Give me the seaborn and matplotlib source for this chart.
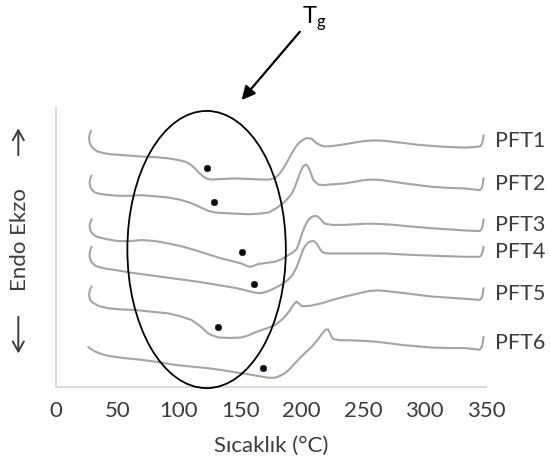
import matplotlib
matplotlib.use("Agg")
import matplotlib.pyplot as plt
from matplotlib.patches import Ellipse, FancyArrowPatch
import numpy as np
import pandas as pd
import seaborn as sns

# DSC thermograms (stacked, arbitrary heat-flow units) for six samples
samples = ["PFT1", "PFT2", "PFT3", "PFT4", "PFT5", "PFT6"]

pft1_t = [28.5, 27.4, 26.9, 27.5, 29.0, 31.0, 34.0, 39.0, 45.0, 58.0, 70.0, 81.0, 91.0, 99.0, 105.0,
          109.5, 113.0, 116.5, 120.0, 123.5, 127.0, 136.0, 146.0, 157.0, 167.0, 173.0, 178.0, 181.5,
          185.0, 188.5, 192.0, 195.0, 197.5, 201.0, 204.0, 208.0, 212.0, 215.5, 219.0, 226.0, 235.0,
          243.0, 252.0, 260.0, 268.0, 276.0, 284.0, 295.0, 306.0, 320.0, 333.0, 340.0, 345.0, 346.3,
          347.3, 348.0]
pft1_q = [4.57, 4.51, 4.43, 4.35, 4.29, 4.24, 4.20, 4.17, 4.15, 4.13, 4.11, 4.10, 4.08, 4.05, 4.02,
          3.97, 3.90, 3.82, 3.75, 3.71, 3.70, 3.71, 3.72, 3.71, 3.70, 3.70, 3.72, 3.79,
          3.90, 4.03, 4.17, 4.28, 4.35, 4.41, 4.44, 4.43, 4.35, 4.31, 4.29, 4.30, 4.33,
          4.36, 4.39, 4.40, 4.39, 4.37, 4.35, 4.32, 4.30, 4.28, 4.27, 4.28, 4.29, 4.32,
          4.38, 4.49]

pft2_t = [29.0, 27.8, 27.3, 28.0, 29.5, 31.5, 34.5, 40.0, 50.5, 60.0, 70.0, 81.0, 91.0, 101.0, 110.0,
          117.0, 124.0, 130.0, 137.5, 147.0, 156.5, 165.0, 173.0, 178.0, 182.0, 186.0, 189.0, 192.0,
          194.5, 197.0, 199.0, 201.0, 202.5, 204.0, 205.5, 207.0, 209.5, 213.5, 218.0, 222.0, 235.0,
          243.0, 251.0, 258.0, 265.0, 275.0, 284.0, 295.0, 306.0, 320.0, 333.0, 345.0, 346.3, 347.3,
          348.0]
pft2_q = [3.77, 3.71, 3.63, 3.56, 3.51, 3.47, 3.45, 3.43, 3.41, 3.41, 3.42, 3.40, 3.38, 3.34, 3.28,
          3.21, 3.14, 3.11, 3.10, 3.09, 3.08, 3.09, 3.11, 3.17, 3.23, 3.30, 3.37, 3.45,
          3.57, 3.72, 3.84, 3.93, 3.96, 3.96, 3.92, 3.84, 3.69, 3.61, 3.60, 3.61, 3.63,
          3.66, 3.69, 3.70, 3.69, 3.66, 3.63, 3.60, 3.57, 3.55, 3.54, 3.51, 3.54, 3.60,
          3.72]

pft3_t = [29.0, 27.8, 27.3, 28.0, 29.5, 31.5, 34.5, 40.0, 50.5, 60.0, 70.0, 81.0, 91.0, 102.0, 113.0,
          123.0, 133.0, 142.0, 151.0, 155.0, 158.0, 161.0, 164.5, 171.0, 178.0, 184.0, 189.0, 193.0,
          196.0, 198.0, 200.0, 202.5, 205.0, 208.0, 210.5, 213.0, 215.0, 217.0, 219.0, 225.0, 235.0,
          243.0, 251.0, 260.0, 268.0, 276.0, 284.0, 295.0, 306.0, 320.0, 333.0, 345.0, 346.3, 347.3,
          348.0]
pft3_q = [2.99, 2.93, 2.86, 2.79, 2.74, 2.70, 2.67, 2.64, 2.60, 2.60, 2.62, 2.60, 2.56, 2.51, 2.44,
          2.37, 2.30, 2.25, 2.20, 2.16, 2.14, 2.16, 2.19, 2.21, 2.23, 2.28, 2.35, 2.40,
          2.46, 2.58, 2.72, 2.86, 2.97, 3.03, 3.05, 3.04, 3.00, 2.95, 2.91, 2.89, 2.89,
          2.90, 2.91, 2.91, 2.90, 2.89, 2.87, 2.85, 2.83, 2.81, 2.79, 2.78, 2.81, 2.87,
          2.99]

pft4_t = [29.0, 27.8, 27.3, 28.0, 29.5, 31.5, 34.5, 40.0, 49.4, 63.0, 76.5, 90.0, 103.6, 117.0, 130.8,
          139.0, 147.0, 153.0, 158.0, 162.0, 166.0, 172.0, 178.0, 184.0, 189.0, 193.0, 196.0, 198.5,
          201.0, 203.0, 205.0, 208.0, 210.0, 212.0, 214.0, 216.0, 218.5, 221.5, 228.0, 235.0, 252.0,
          268.0, 284.0, 295.0, 306.0, 320.0, 333.0, 345.0, 346.3, 347.3, 348.0]
pft4_q = [2.50, 2.43, 2.34, 2.26, 2.21, 2.17, 2.14, 2.11, 2.08, 2.03, 1.99, 1.95, 1.91, 1.87, 1.82,
          1.79, 1.76, 1.73, 1.70, 1.68, 1.67, 1.70, 1.76, 1.83, 1.91, 2.01, 2.14, 2.29,
          2.44, 2.52, 2.57, 2.60, 2.60, 2.56, 2.49, 2.42, 2.39, 2.38, 2.38, 2.38, 2.38,
          2.38, 2.36, 2.35, 2.34, 2.33, 2.32, 2.32, 2.35, 2.41, 2.50]

pft5_t = [29.0, 27.6, 26.9, 27.6, 29.3, 31.7, 35.0, 42.6, 53.0, 64.3, 78.0, 91.4, 101.0, 110.4, 117.5,
          123.9, 128.0, 132.1, 142.0, 151.1, 157.0, 162.0, 170.0, 178.2, 182.5, 186.3, 190.0, 193.1,
          195.8, 198.0, 199.9, 204.0, 208.0, 216.2, 225.0, 235.2, 245.0, 255.0, 262.0, 268.0, 276.0,
          284.0, 295.0, 306.0, 320.0, 333.0, 345.0, 346.3, 347.3, 348.0]
pft5_q = [1.79, 1.73, 1.64, 1.56, 1.51, 1.48, 1.44, 1.40, 1.38, 1.37, 1.34, 1.31, 1.26, 1.19, 1.08,
          0.95, 0.91, 0.88, 0.87, 0.88, 0.92, 0.97, 1.03, 1.10, 1.17, 1.25, 1.35, 1.46,
          1.52, 1.48, 1.44, 1.44, 1.45, 1.49, 1.55, 1.61, 1.66, 1.71, 1.72, 1.71, 1.69,
          1.67, 1.64, 1.61, 1.59, 1.57, 1.55, 1.58, 1.64, 1.76]

pft6_t = [26.3, 28.0, 31.7, 36.0, 42.6, 56.0, 69.7, 83.0, 96.8, 110.0, 123.9, 137.0, 151.1, 160.0,
          167.4, 173.0, 178.2, 182.0, 186.3, 190.5, 194.5, 198.5, 202.6, 208.0, 213.4, 217.0, 219.5,
          221.6, 223.5, 225.6, 231.0, 237.8, 250.0, 262.2, 273.0, 284.0, 295.0, 305.7, 320.0, 332.8,
          345.0, 346.3, 347.3, 348.0]
pft6_q = [0.71, 0.68, 0.63, 0.59, 0.55, 0.51, 0.48, 0.44, 0.39, 0.36, 0.33, 0.29, 0.24, 0.21,
          0.18, 0.16, 0.16, 0.19, 0.24, 0.32, 0.42, 0.51, 0.60, 0.71, 0.85, 0.96, 1.02,
          1.02, 0.93, 0.85, 0.83, 0.83, 0.82, 0.80, 0.77, 0.74, 0.72, 0.70, 0.69, 0.69,
          0.66, 0.70, 0.77, 0.89]

# glass transition markers
tg_temp = [122.6, 128.8, 151.1, 161.4, 132.1, 168.2]
tg_q = [3.90, 3.29, 2.40, 1.83, 1.07, 0.33]

x_ticks = [0, 50, 100, 150, 200, 250, 300, 350]

curves_t = [pft1_t, pft2_t, pft3_t, pft4_t, pft5_t, pft6_t]
curves_q = [pft1_q, pft2_q, pft3_q, pft4_q, pft5_q, pft6_q]

frames = []
for name, t, q in zip(samples, curves_t, curves_q):
    frames.append(pd.DataFrame({"T": t, "Q": q, "sample": name}))
df = pd.concat(frames, ignore_index=True)

sns.set_style("white")
plt.rcParams["font.family"] = ["Lato", "DejaVu Sans"]
text_color = "#3c3c3c"
axis_color = "#d9d9d9"

fig = plt.figure(figsize=(5.5, 4.7), dpi=100)
ax = fig.add_axes([0.1018, 0.1772, 0.7818, 0.5957])

sns.lineplot(data=df, x="T", y="Q", units="sample", estimator=None, sort=False,
             color="#a4a4a4", lw=1.5, ax=ax, legend=False,
             solid_joinstyle="round", solid_capstyle="round")
sns.scatterplot(x=tg_temp, y=tg_q, color="#0a0a14", s=22, edgecolor="#1a1030",
                linewidth=0.4, ax=ax, zorder=5, legend=False)

# sample names at the right end of each trace
for name, t, q in zip(samples, curves_t, curves_q):
    ax.annotate(name, xy=(t[-1], (q[-1] + q[-4]) / 2), xytext=(8, 0),
                textcoords="offset points", ha="left", va="center",
                fontsize=15.5, color=text_color, annotation_clip=False)

# region of the glass transitions
ring = Ellipse((122.6, 2.45), width=129, height=4.95, fill=False,
               edgecolor="black", lw=1.3, clip_on=False, zorder=4)
ax.add_patch(ring)

ax.annotate("", xy=(151.1, 5.12), xytext=(198.5, 6.34), xycoords="data",
            arrowprops=dict(arrowstyle="-|>", color="black", lw=1.6,
                            mutation_scale=20, shrinkA=0, shrinkB=0),
            annotation_clip=False)
ax.text(200, 6.49, r"T$_\mathregular{g}$", fontsize=17, color="black",
        ha="left", va="baseline", clip_on=False)

ax.set_xlim(0, 350)
ax.set_ylim(0, 5)
ax.set_xticks(x_ticks)
ax.set_xticklabels([str(v) for v in x_ticks])
ax.set_yticks(range(6))
ax.set_yticklabels([])

for side in ("top", "right"):
    ax.spines[side].set_visible(False)
for side in ("left", "bottom"):
    ax.spines[side].set_color(axis_color)
    ax.spines[side].set_linewidth(1.3)
ax.tick_params(axis="both", direction="out", length=4, width=1.2, color=axis_color,
               labelsize=16, labelcolor=text_color, pad=6)

ax.set_xlabel("Sıcaklık (°C)", fontsize=16, color=text_color, labelpad=11)
ax.set_ylabel("Endo Ekzo", fontsize=16, color=text_color, rotation=90,
              ha="center", va="center")
ax.yaxis.set_label_coords(-0.084, 0.527)

# endo / exo direction arrows beside the axis title
arrow_kw = dict(arrowstyle="->,head_length=0.45,head_width=0.25", color=text_color,
                lw=1.4, mutation_scale=16, shrinkA=0, shrinkB=0)
fig.add_artist(FancyArrowPatch((0.0333, 0.670), (0.0333, 0.727),
                               transform=fig.transFigure, **arrow_kw))
fig.add_artist(FancyArrowPatch((0.0333, 0.326), (0.0333, 0.248),
                               transform=fig.transFigure, **arrow_kw))

fig.savefig("out.png", dpi=100)
